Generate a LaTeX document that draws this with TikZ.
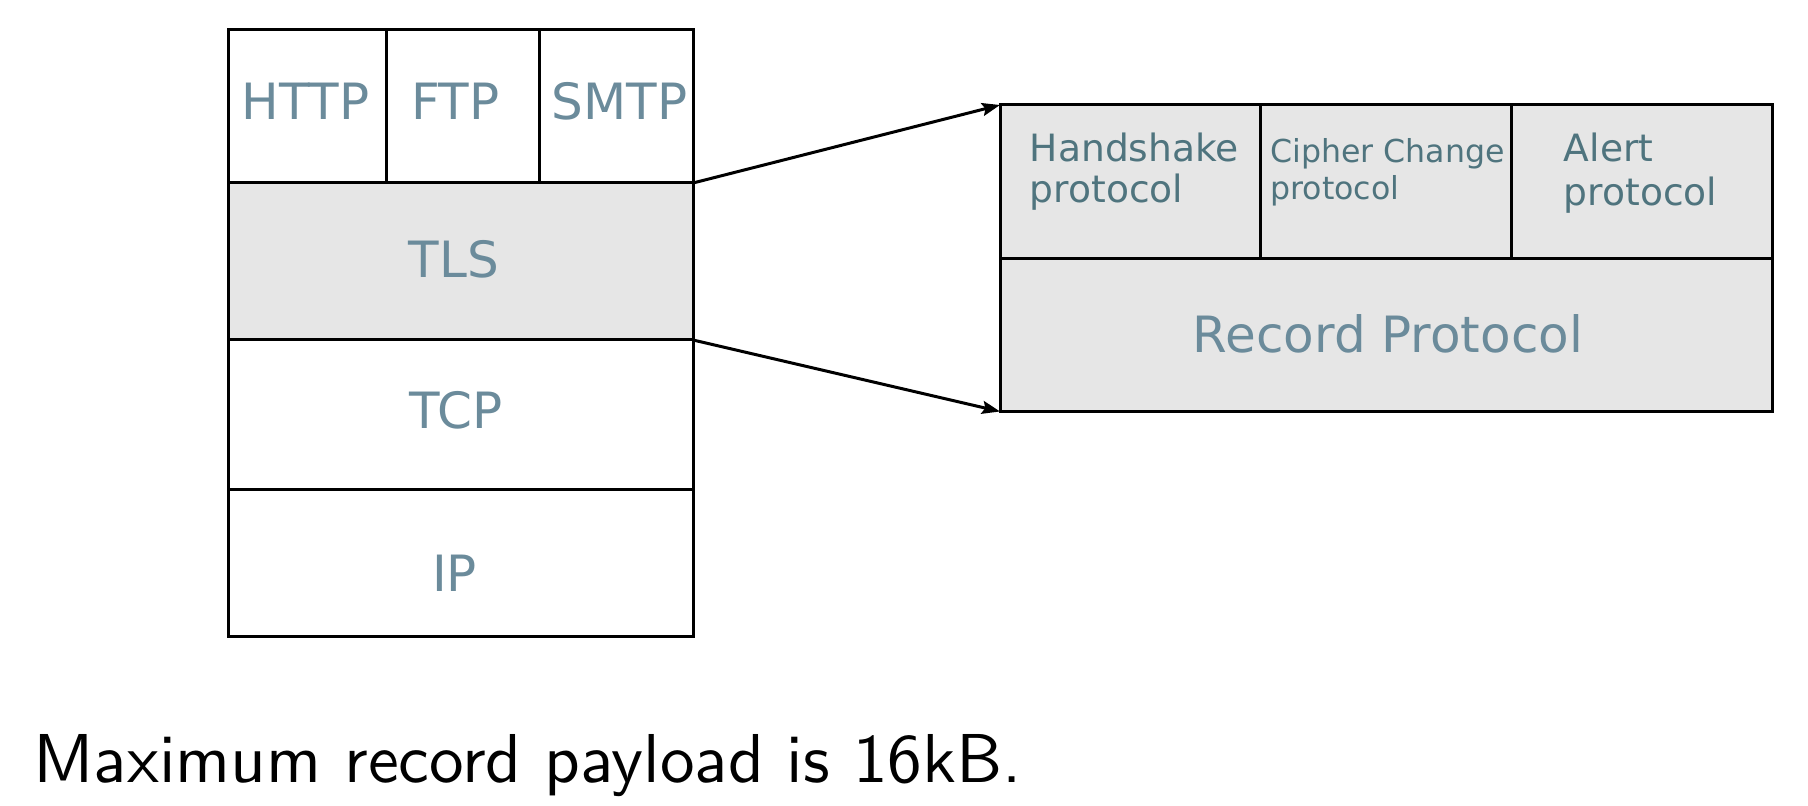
\documentclass[tikz,border=0pt]{standalone}
\usepackage{fontspec}
\newfontfamily\dejavu{DejaVu Sans}
\newfontfamily\notefont{lmsans10-regular.otf}
\usetikzlibrary{arrows.meta}
\definecolor{labelblue}{HTML}{6B8B9B}
\definecolor{labeldark}{HTML}{4F747E}
\definecolor{cellgray}{HTML}{E6E6E6}
\begin{document}
\begin{tikzpicture}[x=0.5pt,y=-0.5pt,
  cell/.style={draw=black,line width=1.5pt,inner sep=0pt,outer sep=0pt},
  graycell/.style={cell,fill=cellgray},
  lbl/.style={font=\dejavu\fontsize{25}{30}\selectfont,text=labelblue,inner sep=0pt,anchor=base},
  small/.style={font=\dejavu\fontsize{18.8}{20.5}\selectfont,text=labeldark,inner sep=0pt,anchor=base west,align=left},
  conn/.style={line width=1.5pt,-{Stealth[length=9pt,width=6.5pt,inset=1.5pt]}}]
\useasboundingbox (0,0) rectangle (1808,806);
% left stack
\node[cell,minimum width=79pt,minimum height=76.5pt] (http) at (307,106.5) {};
\node[cell,minimum width=76.5pt,minimum height=76.5pt] (ftp) at (462.5,106.5) {};
\node[cell,minimum width=77pt,minimum height=76.5pt] (smtp) at (616,106.5) {};
\node[graycell,minimum width=232.5pt,minimum height=78.5pt] (tls) at (460.5,261.5) {};
\node[cell,minimum width=232.5pt,minimum height=75pt] (tcp) at (460.5,415) {};
\node[cell,minimum width=232.5pt,minimum height=73pt] (ip) at (460.5,563) {};
% right box
\node[graycell,minimum width=130pt,minimum height=77pt] (hand) at (1130,182) {};
\node[graycell,minimum width=125.5pt,minimum height=77pt] (ciph) at (1385.5,182) {};
\node[graycell,minimum width=130.5pt,minimum height=77pt] (alert) at (1641.5,182) {};
\node[graycell,minimum width=386pt,minimum height=76.25pt] (record) at (1386,335.25) {};
% labels
\node[lbl] (httpt) at (305.5,120) {HTTP};
\node[lbl] (ftpt) at (455.3,120) {FTP};
\node[lbl] (smtpt) at (619.7,120) {SMTP};
\node[lbl] (tlst) at (454,277.3) {TLS};
\node[lbl] (tcpt) at (456,429) {TCP};
\node[lbl] (ipt) at (454.5,591.7) {IP};
\node[lbl,font=\dejavu\fontsize{25}{30}\selectfont] (recordt) at (1388,352.7) {Record Protocol};
\node[small] (handt) at (1029.5,202.7) {Handshake\\protocol};
\node[small,font=\dejavu\fontsize{15.8}{18.5}\selectfont] (cipht) at (1270,199.7) {Cipher Change\\protocol};
\node[small,font=\dejavu\fontsize{18.8}{22}\selectfont] (alertt) at (1563.5,205.7) {Alert\\protocol};
% connectors
\draw[conn] (tls.north east) -- (hand.north west);
\draw[conn] (tls.south east) -- (record.south west);
% note
\node[anchor=base west,font=\notefont\fontsize{34.6}{40}\selectfont,inner sep=0pt] (note) at (33,782.7) {Maximum record payload is 16kB.};
\end{tikzpicture}
\end{document}
